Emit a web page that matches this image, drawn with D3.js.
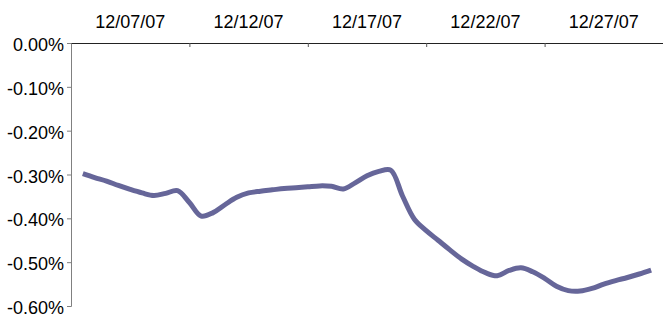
<!DOCTYPE html>
<html>
<head>
<meta charset="utf-8">
<script src="https://cdn.jsdelivr.net/npm/d3@7"></script>
<style>
  body { margin: 0; background: #fff; }
  svg { display: block; font-family: "Liberation Sans", Arial, sans-serif; }
  .axis text { font-size: 18px; fill: #000; }
</style>
</head>
<body>
<div id="chart"></div>
<script>
// top axis labels (one per 5-day group)
var tickLabels = ['12/07/07', '12/12/07', '12/17/07', '12/22/07', '12/27/07'];
// y ticks, in percent
var yTicks = [0, -0.1, -0.2, -0.3, -0.4, -0.5, -0.6];
// readings every 12 hours, starting 12/07/07
var seriesStart = '12/07/07';
var stepHours = 12;
var returns = [
  -0.298, -0.307, -0.315, -0.325, -0.334, -0.342, -0.348, -0.343, -0.337, -0.364,
  -0.395, -0.387, -0.369, -0.352, -0.342, -0.338, -0.335, -0.332, -0.330, -0.328,
  -0.326, -0.327, -0.333, -0.319, -0.303, -0.293, -0.290, -0.349, -0.402, -0.428,
  -0.450, -0.472, -0.493, -0.510, -0.524, -0.531, -0.519, -0.513, -0.522, -0.537,
  -0.555, -0.565, -0.566, -0.560, -0.550, -0.542, -0.535, -0.527, -0.518
];

var width = 663, height = 318;
var parse = d3.timeParse('%m/%d/%y');
var start = parse(seriesStart);

var data = returns.map(function(v, i) {
  return { date: d3.timeHour.offset(start, i * stepHours), value: v };
});

var svg = d3.select('#chart').append('svg')
    .attr('width', width)
    .attr('height', height);

// each day is a slot, so the axis runs from half a day before the first label
var labelDates = tickLabels.map(parse);
var x = d3.scaleTime()
    .domain([d3.timeHour.offset(labelDates[0], -12), d3.timeHour.offset(labelDates[0], 25 * 24 - 12)])
    .range([71, 663]);

var y = d3.scaleLinear()
    .domain([-0.6, 0])
    .range([306, 43]);

// left axis
var yAxis = d3.axisLeft(y)
    .tickValues(yTicks)
    .tickSize(4)
    .tickPadding(3)
    .tickFormat(function(d) { return (d < 0 ? '-' : '') + Math.abs(d).toFixed(2) + '%'; });

var gy = svg.append('g')
    .attr('class', 'axis')
    .attr('transform', 'translate(' + x.range()[0] + ',0)')
    .call(yAxis);
gy.select('.domain').attr('stroke', '#808080');
gy.selectAll('.tick line').attr('stroke', '#808080');
gy.selectAll('.tick text').attr('dy', '0.42em');

// top axis: ticks between the 5-day groups
var boundaries = labelDates.slice(1).map(function(d) { return d3.timeHour.offset(d, -12); });
var xAxis = d3.axisTop(x)
    .tickValues(boundaries)
    .tickSize(-4)
    .tickSizeOuter(0)
    .tickFormat('');

var gx = svg.append('g')
    .attr('class', 'axis')
    .attr('transform', 'translate(0,' + y(0) + ')')
    .call(xAxis);
gx.select('.domain').attr('stroke', '#222');
gx.selectAll('.tick line').attr('stroke', '#555');

// labels centred in their group
gx.selectAll('.group-label')
  .data(labelDates)
  .enter()
  .append('text')
    .attr('class', 'group-label')
    .attr('x', function(d) { return x(d3.timeHour.offset(d, 48)); })
    .attr('y', -15)
    .attr('text-anchor', 'middle')
    .text(function(d, i) { return tickLabels[i]; });

var line = d3.line()
    .x(function(d) { return x(d.date); })
    .y(function(d) { return y(d.value); })
    .curve(d3.curveCatmullRom.alpha(0.5));

svg.append('path')
    .datum(data)
    .attr('fill', 'none')
    .attr('stroke', '#666699')
    .attr('stroke-width', 5)
    .attr('stroke-linejoin', 'round')
    .attr('d', line);
</script>
</body>
</html>
